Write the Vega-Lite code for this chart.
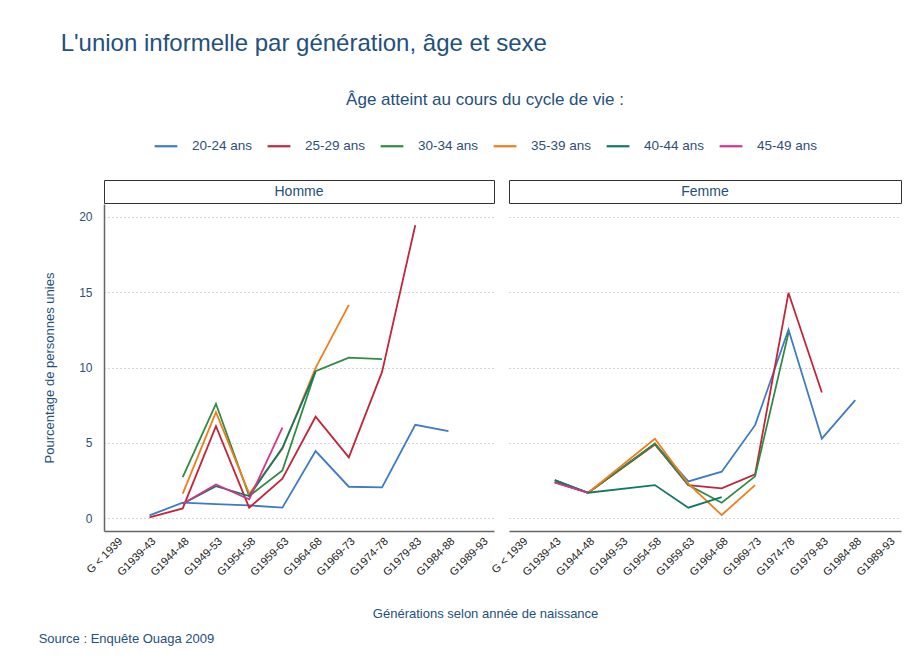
{
  "$schema": "https://vega.github.io/schema/vega-lite/v6.json",
  "background": "white",
  "padding": {"left": 38, "top": 32, "right": 20, "bottom": 20},
  "title": {"text": "L'union informelle par génération, âge et sexe", "anchor": "start", "dx": 22, "fontSize": 24, "fontWeight": "normal", "font": "Liberation Sans", "color": "#24507d", "offset": 36},
  "config": {
    "font": "Liberation Sans",
    "view": {"stroke": null},
    "legend": {
      "orient": "none", "legendX": 49, "legendY": -88, "direction": "horizontal",
      "titleFontSize": 17, "titleFontWeight": "normal", "titleColor": "#24507d", "titleLimit": 600,
      "titleAnchor": "middle", "titlePadding": 24,
      "labelFontSize": 13.5, "labelColor": "#2f4f78", "labelOffset": 13,
      "symbolType": "stroke", "symbolStrokeWidth": 2.2, "symbolSize": 520,
      "columnPadding": 10
    }
  },
  "datasets": {
    "d": [
      {"sexe": "Homme", "age": "20-24 ans", "gen": "G1939-43", "pct": 0.18},
      {"sexe": "Homme", "age": "20-24 ans", "gen": "G1944-48", "pct": 1.02},
      {"sexe": "Homme", "age": "20-24 ans", "gen": "G1949-53", "pct": 0.93},
      {"sexe": "Homme", "age": "20-24 ans", "gen": "G1954-58", "pct": 0.84},
      {"sexe": "Homme", "age": "20-24 ans", "gen": "G1959-63", "pct": 0.69},
      {"sexe": "Homme", "age": "20-24 ans", "gen": "G1964-68", "pct": 4.45},
      {"sexe": "Homme", "age": "20-24 ans", "gen": "G1969-73", "pct": 2.08},
      {"sexe": "Homme", "age": "20-24 ans", "gen": "G1974-78", "pct": 2.04},
      {"sexe": "Homme", "age": "20-24 ans", "gen": "G1979-83", "pct": 6.19},
      {"sexe": "Homme", "age": "20-24 ans", "gen": "G1984-88", "pct": 5.77},
      {"sexe": "Homme", "age": "25-29 ans", "gen": "G1939-43", "pct": 0.05},
      {"sexe": "Homme", "age": "25-29 ans", "gen": "G1944-48", "pct": 0.64},
      {"sexe": "Homme", "age": "25-29 ans", "gen": "G1949-53", "pct": 6.1},
      {"sexe": "Homme", "age": "25-29 ans", "gen": "G1954-58", "pct": 0.69},
      {"sexe": "Homme", "age": "25-29 ans", "gen": "G1959-63", "pct": 2.61},
      {"sexe": "Homme", "age": "25-29 ans", "gen": "G1964-68", "pct": 6.73},
      {"sexe": "Homme", "age": "25-29 ans", "gen": "G1969-73", "pct": 4.03},
      {"sexe": "Homme", "age": "25-29 ans", "gen": "G1974-78", "pct": 9.71},
      {"sexe": "Homme", "age": "25-29 ans", "gen": "G1979-83", "pct": 19.45},
      {"sexe": "Homme", "age": "30-34 ans", "gen": "G1944-48", "pct": 2.72},
      {"sexe": "Homme", "age": "30-34 ans", "gen": "G1949-53", "pct": 7.59},
      {"sexe": "Homme", "age": "30-34 ans", "gen": "G1954-58", "pct": 1.46},
      {"sexe": "Homme", "age": "30-34 ans", "gen": "G1959-63", "pct": 3.16},
      {"sexe": "Homme", "age": "30-34 ans", "gen": "G1964-68", "pct": 9.76},
      {"sexe": "Homme", "age": "30-34 ans", "gen": "G1969-73", "pct": 10.66},
      {"sexe": "Homme", "age": "30-34 ans", "gen": "G1974-78", "pct": 10.55},
      {"sexe": "Homme", "age": "35-39 ans", "gen": "G1944-48", "pct": 1.62},
      {"sexe": "Homme", "age": "35-39 ans", "gen": "G1949-53", "pct": 7.04},
      {"sexe": "Homme", "age": "35-39 ans", "gen": "G1954-58", "pct": 1.62},
      {"sexe": "Homme", "age": "35-39 ans", "gen": "G1959-63", "pct": 4.6},
      {"sexe": "Homme", "age": "35-39 ans", "gen": "G1964-68", "pct": 9.98},
      {"sexe": "Homme", "age": "35-39 ans", "gen": "G1969-73", "pct": 14.16},
      {"sexe": "Homme", "age": "40-44 ans", "gen": "G1944-48", "pct": 0.95},
      {"sexe": "Homme", "age": "40-44 ans", "gen": "G1949-53", "pct": 2.12},
      {"sexe": "Homme", "age": "40-44 ans", "gen": "G1954-58", "pct": 1.46},
      {"sexe": "Homme", "age": "40-44 ans", "gen": "G1959-63", "pct": 4.67},
      {"sexe": "Homme", "age": "40-44 ans", "gen": "G1964-68", "pct": 9.76},
      {"sexe": "Homme", "age": "45-49 ans", "gen": "G1944-48", "pct": 0.95},
      {"sexe": "Homme", "age": "45-49 ans", "gen": "G1949-53", "pct": 2.23},
      {"sexe": "Homme", "age": "45-49 ans", "gen": "G1954-58", "pct": 1.24},
      {"sexe": "Homme", "age": "45-49 ans", "gen": "G1959-63", "pct": 6.0},
      {"sexe": "Femme", "age": "20-24 ans", "gen": "G1939-43", "pct": 2.39},
      {"sexe": "Femme", "age": "20-24 ans", "gen": "G1944-48", "pct": 1.68},
      {"sexe": "Femme", "age": "20-24 ans", "gen": "G1954-58", "pct": 4.93},
      {"sexe": "Femme", "age": "20-24 ans", "gen": "G1959-63", "pct": 2.43},
      {"sexe": "Femme", "age": "20-24 ans", "gen": "G1964-68", "pct": 3.08},
      {"sexe": "Femme", "age": "20-24 ans", "gen": "G1969-73", "pct": 6.17},
      {"sexe": "Femme", "age": "20-24 ans", "gen": "G1974-78", "pct": 12.52},
      {"sexe": "Femme", "age": "20-24 ans", "gen": "G1979-83", "pct": 5.27},
      {"sexe": "Femme", "age": "20-24 ans", "gen": "G1984-88", "pct": 7.83},
      {"sexe": "Femme", "age": "25-29 ans", "gen": "G1939-43", "pct": 2.39},
      {"sexe": "Femme", "age": "25-29 ans", "gen": "G1944-48", "pct": 1.68},
      {"sexe": "Femme", "age": "25-29 ans", "gen": "G1954-58", "pct": 4.89},
      {"sexe": "Femme", "age": "25-29 ans", "gen": "G1959-63", "pct": 2.19},
      {"sexe": "Femme", "age": "25-29 ans", "gen": "G1964-68", "pct": 1.97},
      {"sexe": "Femme", "age": "25-29 ans", "gen": "G1969-73", "pct": 2.9},
      {"sexe": "Femme", "age": "25-29 ans", "gen": "G1974-78", "pct": 14.96},
      {"sexe": "Femme", "age": "25-29 ans", "gen": "G1979-83", "pct": 8.34},
      {"sexe": "Femme", "age": "30-34 ans", "gen": "G1939-43", "pct": 2.52},
      {"sexe": "Femme", "age": "30-34 ans", "gen": "G1944-48", "pct": 1.68},
      {"sexe": "Femme", "age": "30-34 ans", "gen": "G1954-58", "pct": 4.95},
      {"sexe": "Femme", "age": "30-34 ans", "gen": "G1959-63", "pct": 2.19},
      {"sexe": "Femme", "age": "30-34 ans", "gen": "G1964-68", "pct": 1.02},
      {"sexe": "Femme", "age": "30-34 ans", "gen": "G1969-73", "pct": 2.77},
      {"sexe": "Femme", "age": "30-34 ans", "gen": "G1974-78", "pct": 12.3},
      {"sexe": "Femme", "age": "35-39 ans", "gen": "G1944-48", "pct": 1.68},
      {"sexe": "Femme", "age": "35-39 ans", "gen": "G1954-58", "pct": 5.27},
      {"sexe": "Femme", "age": "35-39 ans", "gen": "G1959-63", "pct": 2.28},
      {"sexe": "Femme", "age": "35-39 ans", "gen": "G1964-68", "pct": 0.2},
      {"sexe": "Femme", "age": "35-39 ans", "gen": "G1969-73", "pct": 2.19},
      {"sexe": "Femme", "age": "40-44 ans", "gen": "G1939-43", "pct": 2.52},
      {"sexe": "Femme", "age": "40-44 ans", "gen": "G1944-48", "pct": 1.68},
      {"sexe": "Femme", "age": "40-44 ans", "gen": "G1954-58", "pct": 2.19},
      {"sexe": "Femme", "age": "40-44 ans", "gen": "G1959-63", "pct": 0.69},
      {"sexe": "Femme", "age": "40-44 ans", "gen": "G1964-68", "pct": 1.39},
      {"sexe": "Femme", "age": "45-49 ans", "gen": "G1939-43", "pct": 2.35},
      {"sexe": "Femme", "age": "45-49 ans", "gen": "G1944-48", "pct": 1.68}
    ]
  },
  "vconcat": [
    {
      "title": {"text": "Source : Enquête Ouaga 2009", "orient": "bottom", "anchor": "start", "fontSize": 13, "fontWeight": "normal", "color": "#24507d", "offset": 12, "dx": -5},
      "vconcat": [
        {
          "title": {"text": "Générations selon année de naissance", "orient": "bottom", "anchor": "middle", "fontSize": 13, "fontWeight": "normal", "color": "#24507d", "offset": 31, "dx": 13},
          "spacing": -6,
          "hconcat": [
            {
              "spacing": 0,
              "vconcat": [
                {
                  "width": 390, "height": 23,
                  "data": {"values": [{"s": "Homme"}]},
                  "mark": {"type": "text", "fontSize": 14, "color": "#24507d"},
                  "encoding": {"text": {"field": "s"}},
                  "view": {"stroke": "#333", "strokeWidth": 1}
                },
                {
                  "width": 390, "height": 327,
                  "data": {"name": "d"},
                  "transform": [{"filter": "datum.sexe === 'Homme'"}],
                  "mark": {"type": "line", "strokeWidth": 1.8},
                  "encoding": {
                    "x": {"field": "gen", "type": "ordinal",
                      "scale": {"type": "point", "padding": 0.37, "domain": ["G < 1939", "G1939-43", "G1944-48", "G1949-53", "G1954-58", "G1959-63", "G1964-68", "G1969-73", "G1974-78", "G1979-83", "G1984-88", "G1989-93"]},
                      "axis": {"title": null,
                        "labelAngle": -45, "labelFontSize": 11, "labelColor": "#222", "labelPadding": 4, "ticks": false,
                        "domainColor": "#666", "domainWidth": 1.5,
                        "gridColor": {"condition": {"test": "datum.value === 'G < 1939'", "value": "transparent"}, "value": "#f0f0f0"}}},
                    "y": {"field": "pct", "type": "quantitative",
                      "scale": {"domain": [-0.86, 20.86], "nice": false, "zero": false},
                      "axis": {"title": "Pourcentage de personnes unies", "values": [0, 5, 10, 15, 20], "titleFontSize": 13, "titleFontWeight": "normal", "titleColor": "#24507d", "titlePadding": 22,
                        "labelFontSize": 12, "labelColor": "#2f4f78", "labelPadding": 12, "ticks": false,
                        "domainColor": "#666", "domainWidth": 1.5,
                        "gridColor": "#aaa", "gridDash": [1, 3]}},
                    "color": {"field": "age", "type": "nominal",
                      "scale": {"domain": ["20-24 ans", "25-29 ans", "30-34 ans", "35-39 ans", "40-44 ans", "45-49 ans"], "range": ["#3d7bc4", "#c1273b", "#2f8b43", "#f07d1b", "#117866", "#d6338f"]},
                      "legend": {"title": "Âge atteint au cours du cycle de vie :"}}
                  }
                }
              ]
            },
            {
              "spacing": 0,
              "vconcat": [
                {
                  "width": 392, "height": 23,
                  "data": {"values": [{"s": "Femme"}]},
                  "mark": {"type": "text", "fontSize": 14, "color": "#24507d"},
                  "encoding": {"text": {"field": "s"}},
                  "view": {"stroke": "#333", "strokeWidth": 1}
                },
                {
                  "width": 392, "height": 327,
                  "data": {"name": "d"},
                  "transform": [{"filter": "datum.sexe === 'Femme'"}],
                  "mark": {"type": "line", "strokeWidth": 1.8},
                  "encoding": {
                    "x": {"field": "gen", "type": "ordinal",
                      "scale": {"type": "point", "padding": 0.37, "domain": ["G < 1939", "G1939-43", "G1944-48", "G1949-53", "G1954-58", "G1959-63", "G1964-68", "G1969-73", "G1974-78", "G1979-83", "G1984-88", "G1989-93"]},
                      "axis": {"title": null,
                        "labelAngle": -45, "labelFontSize": 11, "labelColor": "#222", "labelPadding": 4, "ticks": false,
                        "domainColor": "#666", "domainWidth": 1.5,
                        "gridColor": {"condition": {"test": "datum.value === 'G < 1939'", "value": "transparent"}, "value": "#f0f0f0"}}},
                    "y": {"field": "pct", "type": "quantitative",
                      "scale": {"domain": [-0.86, 20.86], "nice": false, "zero": false},
                      "axis": {"title": null, "values": [0, 5, 10, 15, 20], "labels": false, "ticks": false, "domain": false,
                        "gridColor": "#aaa", "gridDash": [1, 3]}},
                    "color": {"field": "age", "type": "nominal",
                      "scale": {"domain": ["20-24 ans", "25-29 ans", "30-34 ans", "35-39 ans", "40-44 ans", "45-49 ans"], "range": ["#3d7bc4", "#c1273b", "#2f8b43", "#f07d1b", "#117866", "#d6338f"]},
                      "legend": {"title": "Âge atteint au cours du cycle de vie :"}}
                  }
                }
              ]
            }
          ]
        }
      ]
    }
  ]
}
